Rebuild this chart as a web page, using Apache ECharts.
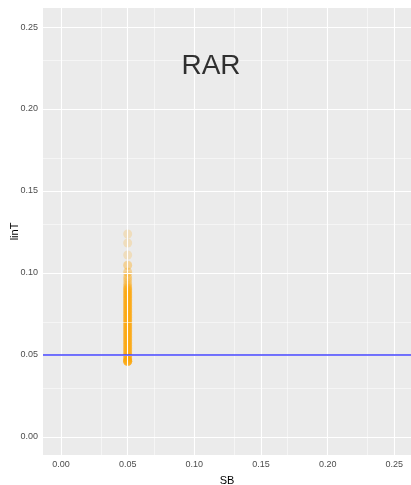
<!DOCTYPE html>
<html><head><meta charset="utf-8">
<script src="https://cdn.jsdelivr.net/npm/echarts@6/dist/echarts.min.js"></script>
<style>html,body{margin:0;padding:0;background:#fff}#c{width:411px;height:485px}</style>
</head><body><div id="c"></div>
<script>
const xTicks = [0, 0.05, 0.10, 0.15, 0.20, 0.25];
const yTicks = [0, 0.05, 0.10, 0.15, 0.20, 0.25];
const xMinor = [0.025, 0.075, 0.125, 0.175, 0.225];
const yMinor = [0.025, 0.075, 0.125, 0.175, 0.225];
const xLabels = ['0.00', '0.05', '0.10', '0.15', '0.20', '0.25'];
const yLabels = ['0.00', '0.05', '0.10', '0.15', '0.20', '0.25'];
const sbValue = 0.05;
const linT = [
  0.1238, 0.1183, 0.1110, 0.1049, 0.1046, 0.1006, 0.1003,
  0.0985, 0.0970, 0.0965, 0.0952, 0.0939, 0.0930, 0.0922, 0.0915,
  0.0910, 0.0905, 0.0901, 0.0896, 0.0891, 0.0887, 0.0882, 0.0878, 0.0873, 0.0869,
  0.0864, 0.0860, 0.0856, 0.0851, 0.0847, 0.0842, 0.0838, 0.0833, 0.0829, 0.0824,
  0.0820, 0.0815, 0.0811, 0.0806, 0.0802, 0.0797, 0.0793, 0.0788, 0.0784, 0.0779,
  0.0775, 0.0770, 0.0766, 0.0761, 0.0757, 0.0752, 0.0748, 0.0743, 0.0739, 0.0734,
  0.0730, 0.0725, 0.0721, 0.0716, 0.0712, 0.0707, 0.0703, 0.0698, 0.0694, 0.0689,
  0.0685, 0.0680, 0.0676, 0.0671, 0.0667, 0.0662, 0.0658, 0.0653, 0.0649, 0.0644,
  0.0640, 0.0635, 0.0631, 0.0626, 0.0622, 0.0617, 0.0613, 0.0608, 0.0604, 0.0599,
  0.0595, 0.0590, 0.0586, 0.0581, 0.0577, 0.0572, 0.0568, 0.0563, 0.0559, 0.0554,
  0.0550, 0.0545, 0.0541, 0.0536, 0.0532, 0.0527, 0.0523, 0.0518, 0.0514, 0.0509,
  0.0505, 0.0500, 0.0496, 0.0491, 0.0487, 0.0482, 0.0478, 0.0473, 0.0469, 0.0465,
  0.0463, 0.0462, 0.0461, 0.0460, 0.0460, 0.0461, 0.0462
];
const hlineY = 0.05;
const annText = 'RAR';
const annX = 0.1125;
const annY = 0.2262;

const chart = echarts.init(document.getElementById('c'), null, {renderer: 'canvas'});
const axisCommon = {
  type: 'value',
  nameLocation: 'middle',
  nameMoveOverlap: false,
  nameTextStyle: {color: '#000', fontSize: 11, fontFamily: 'Liberation Sans'},
  axisLine: {show: false},
  splitLine: {show: false},
  minorSplitLine: {show: false},
  axisTick: {show: true, length: 3, lineStyle: {color: '#333', width: 1}},
  axisLabel: {color: '#4d4d4d', fontSize: 9, fontFamily: 'Liberation Sans', margin: 5}
};
function vline(v, w) { return {xAxis: v, lineStyle: {color: '#fff', width: w, type: 'solid'}}; }
function hline(v, w) { return {yAxis: v, lineStyle: {color: '#fff', width: w, type: 'solid'}}; }
chart.setOption({
  animation: false,
  grid: {left: 43, right: 0, top: 8, bottom: 30, show: true, backgroundColor: '#EBEBEB',
    borderWidth: 0, containLabel: false, outerBoundsMode: 'none'},
  xAxis: Object.assign({}, axisCommon, {
    name: 'SB', nameGap: 20, min: -0.0135, max: 0.2625,
    axisTick: Object.assign({}, axisCommon.axisTick, {customValues: xTicks}),
    axisLabel: Object.assign({}, axisCommon.axisLabel, {customValues: xTicks,
      formatter: v => xLabels[xTicks.indexOf(Math.round(v * 1000) / 1000)] ?? ''})
  }),
  yAxis: Object.assign({}, axisCommon, {
    name: 'linT', nameGap: 23, min: -0.011, max: 0.2616,
    axisTick: Object.assign({}, axisCommon.axisTick, {customValues: yTicks}),
    axisLabel: Object.assign({}, axisCommon.axisLabel, {customValues: yTicks,
      formatter: v => yLabels[yTicks.indexOf(Math.round(v * 1000) / 1000)] ?? ''})
  }),
  series: [
    {
      type: 'scatter', data: [], z: 1, silent: true,
      markLine: {
        silent: true, symbol: 'none', label: {show: false}, animation: false,
        lineStyle: {color: '#fff', type: 'solid'},
        data: [].concat(
          xMinor.map(v => vline(v, 0.5)), yMinor.map(v => hline(v, 0.5)),
          xTicks.map(v => vline(v, 1.1)), yTicks.map(v => hline(v, 1.1))
        )
      }
    },
    {
      type: 'scatter', z: 3,
      symbol: 'circle', symbolSize: 9,
      itemStyle: {color: '#FFA500', opacity: 0.2},
      data: linT.map(y => [sbValue, y])
    },
    {
      type: 'scatter', data: [], z: 4, silent: true,
      markLine: {
        silent: true, symbol: 'none', label: {show: false}, animation: false,
        lineStyle: {color: '#4545ff', width: 1.6, type: 'solid', opacity: 1},
        data: [{yAxis: hlineY}]
      }
    },
    {
      type: 'scatter', z: 5, silent: true, symbolSize: 0,
      data: [[annX, annY]],
      label: {show: true, position: 'inside', formatter: annText, fontSize: 28,
        color: '#000', fontFamily: 'Liberation Sans'}
    }
  ]
});
</script></body></html>
